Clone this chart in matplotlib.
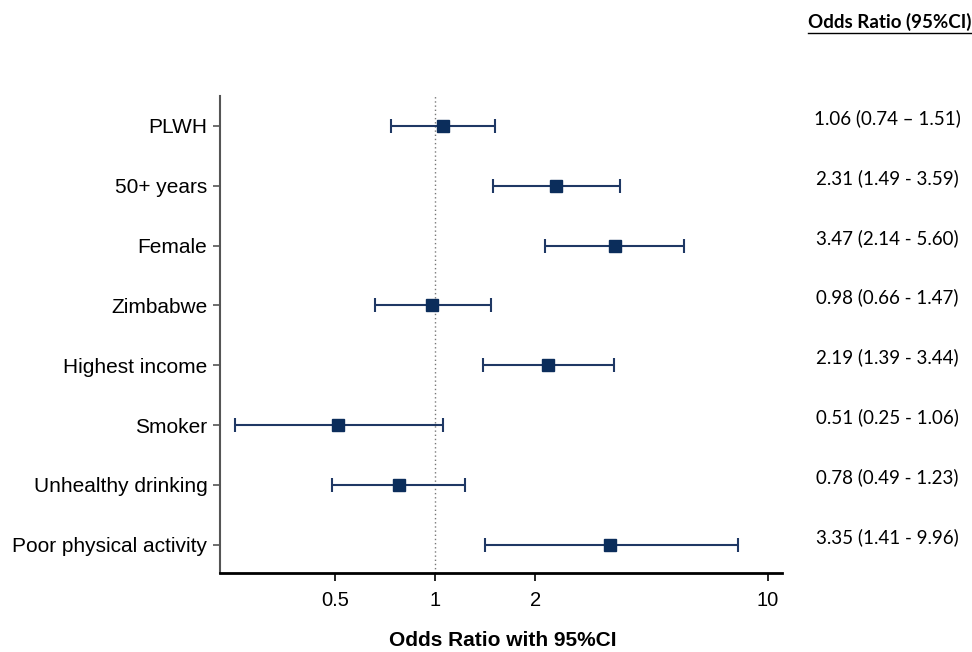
import numpy as np
import matplotlib.pyplot as plt
import matplotlib.transforms as mtransforms

# Data
labels = ['PLWH', '50+ years', 'Female', 'Zimbabwe', 'Highest income',
          'Smoker', 'Unhealthy drinking', 'Poor physical activity']
odds = [1.06, 2.31, 3.47, 0.98, 2.19, 0.51, 0.78, 3.35]
ci_low = [0.74, 1.49, 2.14, 0.66, 1.39, 0.25, 0.49, 1.41]
# last upper whisker is drawn at ~8.1 in the picture (the label says 9.96)
ci_high = [1.51, 3.59, 5.60, 1.47, 3.44, 1.06, 1.23, 8.1]
or_text = ['1.06 (0.74 \u2013 1.51)', '2.31 (1.49 - 3.59)', '3.47 (2.14 - 5.60)',
           '0.98 (0.66 - 1.47)', '2.19 (1.39 - 3.44)', '0.51 (0.25 - 1.06)',
           '0.78 (0.49 - 1.23)', '3.35 (1.41 - 9.96)']
xticks = [0.5, 1, 2, 10]

plt.rcParams['font.family'] = ['Liberation Sans', 'DejaVu Sans']

fig = plt.figure(figsize=(9.72, 6.52), dpi=100)
ax = fig.add_axes([0.2263, 0.1212, 0.578, 0.7316])

y = np.arange(len(labels))
odds = np.array(odds)
err = [odds - np.array(ci_low), np.array(ci_high) - odds]

# Reference line at OR = 1
ax.axvline(1, color='#777777', lw=1, ls=(0, (1, 2)), zorder=1)

ax.errorbar(odds, y, xerr=err, fmt='s', color='#0b2d5b', ecolor='#1f3864',
            elinewidth=1.5, capsize=5, capthick=1.5, markersize=8, zorder=3)

ax.set_xscale('log')
ax.set_xlim(0.226, 11.0)
ax.set_ylim(7.47, -0.5)
ax.set_xticks(xticks)
ax.set_xticklabels([str(t) for t in xticks])
ax.minorticks_off()
ax.set_yticks(y)
ax.set_yticklabels(labels)

ax.tick_params(axis='y', length=5, width=1.2, color='#555555', labelsize=15, pad=4)
ax.tick_params(axis='x', length=6, width=1.2, color='black', labelsize=14.5, pad=7)

for side in ['top', 'right']:
    ax.spines[side].set_visible(False)
ax.spines['left'].set_color('#555555')
ax.spines['left'].set_linewidth(1.5)
ax.spines['bottom'].set_color('black')
ax.spines['bottom'].set_linewidth(2)

fig.text(503 / 972, 1 - 641 / 652, 'Odds Ratio with 95%CI', ha='center', va='center',
         fontsize=15, fontweight='bold')

# Right column with OR (95% CI) text
calibri_like = ['Lato', 'DejaVu Sans']
fig.text(808 / 972, 1 - 22 / 652, 'Odds Ratio (95%CI)', ha='left', va='center',
         fontsize=13.5, fontweight='bold', family=calibri_like)
fig.add_artist(plt.Line2D([808 / 972, 1.0], [1 - 33 / 652, 1 - 33 / 652],
                          color='black', lw=1))
trans = mtransforms.blended_transform_factory(fig.transFigure, ax.transData)
for yi, txt in zip(y, or_text):
    ax.text(887 / 972, yi - 0.13, txt, transform=trans, ha='center', va='center',
            fontsize=13.5, family=calibri_like)

fig.savefig('out.png', dpi=100)
